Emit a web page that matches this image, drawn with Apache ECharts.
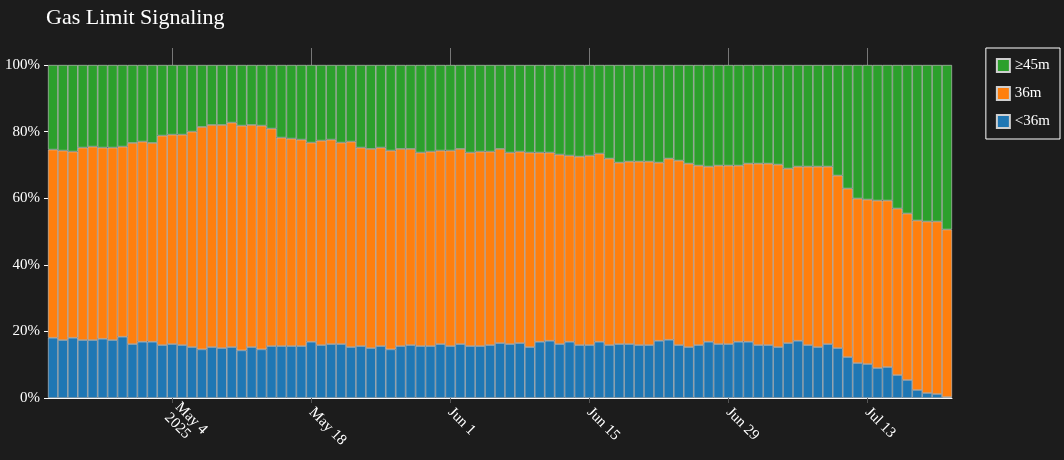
<!DOCTYPE html>
<html><head><meta charset="utf-8">
<script src="https://cdn.jsdelivr.net/npm/echarts@6/dist/echarts.min.js"></script>
<style>html,body{margin:0;background:#1c1c1c}#c{width:1064px;height:460px}</style></head>
<body><div id="c"></div>
<script>
const startDate = '2025-04-22';
const below36 = [18.1,17.4,18.1,17.4,17.4,17.8,17.4,18.4,16.2,16.9,16.9,15.9,16.2,15.9,15.3,14.6,15.3,15.0,15.3,14.3,15.3,14.6,15.6,15.6,15.6,15.6,16.9,15.9,16.2,16.2,15.3,15.6,15.0,15.6,14.6,15.6,15.9,15.6,15.6,16.2,15.6,16.2,15.6,15.6,15.9,16.5,16.2,16.5,15.3,16.9,17.2,16.2,16.9,15.9,15.9,16.9,15.9,16.2,16.2,15.9,15.9,17.2,17.5,15.9,15.3,15.9,16.9,16.2,16.2,16.9,16.9,15.9,15.9,15.3,16.5,17.2,15.9,15.3,16.2,15.0,12.3,10.5,10.2,9.0,9.3,6.9,5.4,2.4,1.5,1.2,0.3];
const cumTo36 = [74.6,74.3,74.0,75.2,75.5,75.2,75.2,75.5,76.6,77.0,76.6,78.8,79.1,79.1,80.0,81.4,82.0,82.0,82.7,81.8,82.0,81.8,80.9,78.2,77.9,77.6,76.7,77.3,77.6,76.7,77.0,75.2,74.8,75.2,74.3,74.8,74.8,73.7,74.0,74.3,74.3,74.8,73.7,74.0,74.0,74.8,73.7,74.0,73.7,73.7,73.7,73.1,72.8,72.5,72.8,73.4,71.9,70.7,71.0,71.0,71.0,70.7,71.9,71.3,70.4,69.8,69.5,69.8,69.8,69.8,70.4,70.4,70.4,70.1,68.9,69.5,69.5,69.5,69.5,66.8,62.9,59.9,59.6,59.3,59.3,56.9,55.4,53.3,53.0,53.0,50.6];
const tickLabels = {'2025-05-04':'May 4\n2025','2025-05-18':'May 18','2025-06-01':'Jun 1','2025-06-15':'Jun 15','2025-06-29':'Jun 29','2025-07-13':'Jul 13'};

const dates = [];
const d0 = new Date(startDate + 'T00:00:00Z');
for (let i = 0; i < below36.length; i++) {
  const d = new Date(d0.getTime() + i * 86400000);
  dates.push(d.toISOString().slice(0, 10));
}
const mid36 = cumTo36.map((c, i) => +(c - below36[i]).toFixed(1));
const above45 = cumTo36.map(c => +(100 - c).toFixed(1));

const font = 'Liberation Serif';
const bar = (name, data, color) => ({
  name, type: 'bar', stack: 's', data, barCategoryGap: 0, xAxisIndex: 0,
  itemStyle: { color, borderColor: '#cfcfcf', borderWidth: 0.6 }
});
const chart = echarts.init(document.getElementById('c'));
chart.setOption({
  backgroundColor: '#1c1c1c',
  animation: false,
  textStyle: { fontFamily: font },
  title: { text: 'Gas Limit Signaling', left: 41, top: 2, textStyle: { color: '#fff', fontFamily: font, fontSize: 22, fontWeight: 'normal' } },
  grid: { left: 48, right: 112, top: 65, bottom: 62 },
  legend: {
    data: ['≥45m', '36m', '<36m'], orient: 'vertical', right: 4, top: 48,
    itemWidth: 13, itemHeight: 13, itemGap: 13, icon: 'rect',
    padding: [10, 10, 10, 10], borderColor: '#fff', borderWidth: 1,
    textStyle: { color: '#fff', fontFamily: font, fontSize: 15 }
  },
  xAxis: [{
    type: 'category', data: dates,
    axisLine: { show: true, lineStyle: { color: '#fff' } },
    axisTick: { show: true, length: 5, lineStyle: { color: '#555' }, interval: (i, v) => !!tickLabels[v], alignWithLabel: true },
    axisLabel: { interval: (i, v) => !!tickLabels[v], formatter: v => tickLabels[v] || '', rotate: -45, color: '#fff', fontFamily: font, fontSize: 15, margin: 12 }
  }, {
    type: 'category', data: dates, position: 'top',
    axisLine: { show: true, lineStyle: { color: '#1c1c1c' } },
    axisTick: { show: true, length: 17, inside: false, lineStyle: { color: '#777' }, interval: (i, v) => !!tickLabels[v], alignWithLabel: true },
    axisLabel: { show: false }
  }],
  yAxis: {
    type: 'value', min: 0, max: 100, interval: 20,
    splitLine: { show: false },
    axisLine: { show: false },
    axisTick: { show: true, length: 4, lineStyle: { color: '#fff' } },
    axisLabel: { formatter: '{value}%', color: '#fff', fontFamily: font, fontSize: 15 }
  },
  series: [
    bar('<36m', below36, '#1f77b4'),
    bar('36m', mid36, '#ff7f0e'),
    bar('≥45m', above45, '#2ca02c')
  ]
});
</script></body></html>
